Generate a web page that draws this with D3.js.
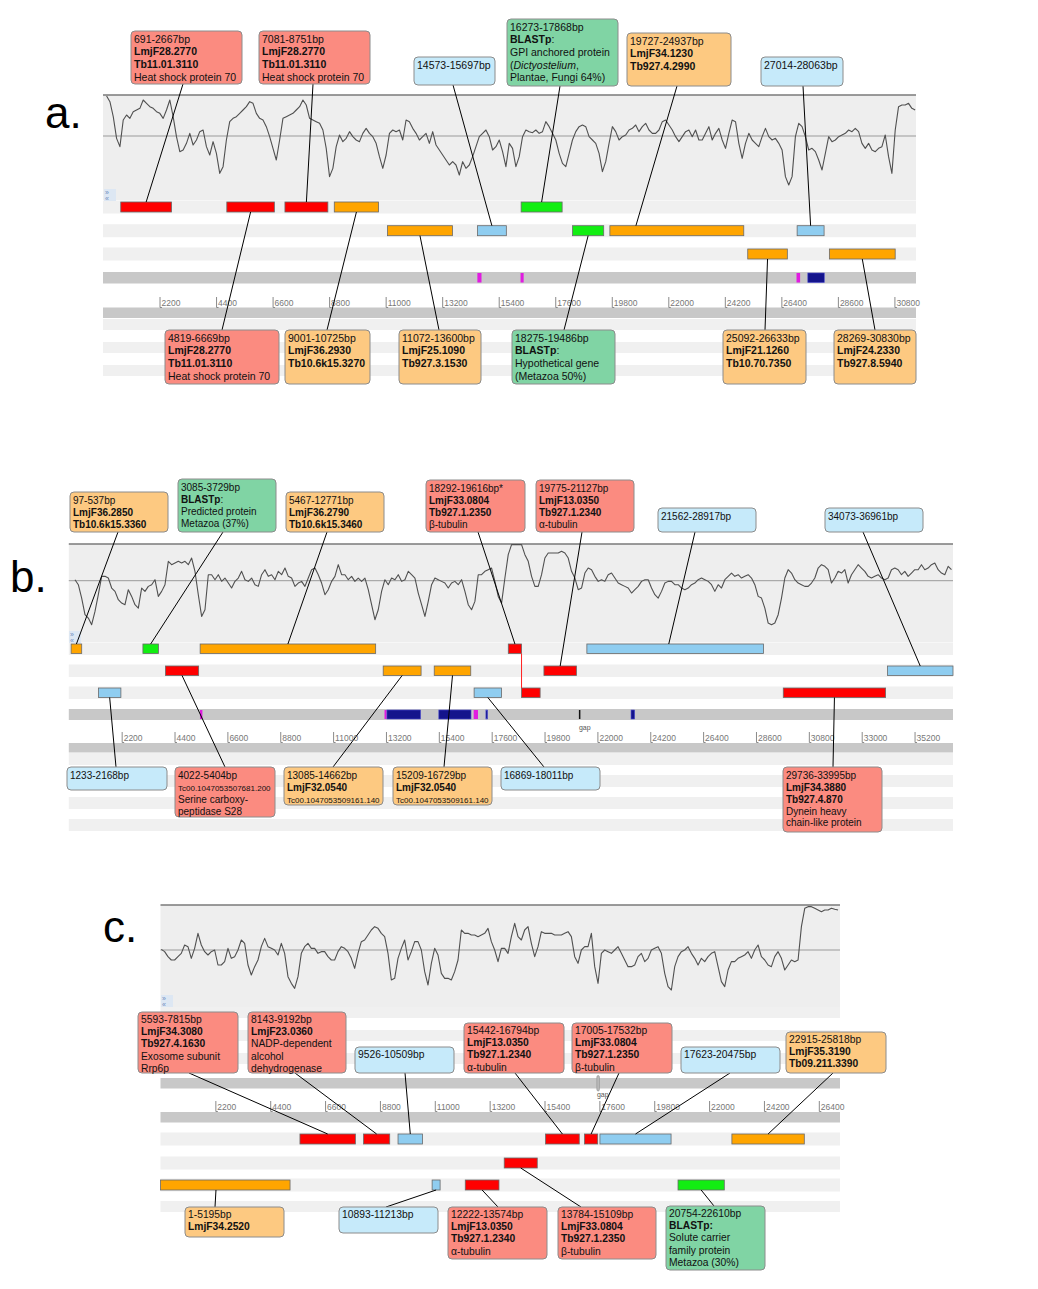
<!DOCTYPE html>
<html>
<head>
<meta charset="utf-8">
<script src="https://cdnjs.cloudflare.com/ajax/libs/d3/7.8.5/d3.min.js"></script>
<style>
  body { margin: 0; background: #fff; }
  svg { display: block; font-family: "Liberation Sans", Arial, sans-serif; }
</style>
</head>
<body>
<svg id="fig" width="1038" height="1289"></svg>
<script>
// ---- data: sliding-window trace values (arbitrary units, 0 = mean line) ----
var traceA = [120,103,58,-7,-32,48,63,53,73,78, 83,108,98,88,83,73,68,53,78,108,
  58,-2,-47,-42,-22,8,-27,-12,13,18, -32,-57,-17,-52,-112,-92,-12,43,53,58,
  68,78,88,103,98,68,53,48,28,-2, -37,-72,-12,53,58,63,68,78,88,108,
  93,53,48,43,38,18,-37,-122,-97,-32, 3,-17,-7,13,-2,-12,-17,8,23,8,
  -2,-22,-62,-97,-57,8,18,13,18,-12, 48,43,23,8,-12,-2,8,-22,13,-27,
  -42,-57,-72,-87,-77,-87,-117,-77,-97,-87, -62,-32,-2,8,18,-2,-42,-32,-12,-47, -92,
  -22,-37,-92,-62,-2,18,13,10,18,8, 13,43,28,8,-12,-52,-82,-92,-52,-12,
  13,28,33,28,-2,-12,-22,-52,-107,-77, -22,28,13,-12,-2,3,18,23,33,13,
  28,38,18,8,8,18,43,48,33,18, -2,-17,-2,13,18,-2,18,-12,-12,8,
  28,-12,8,23,-12,-37,8,48,43,-22, -67,-22,8,-12,-22,-32,-2,23,-2,-12,
  -7,-22,-42,-122,-147,-122,-2,38,28,-2, -42,-37,-47,-72,-102,-52,-2,-17,-12,-2,
  3,8,18,13,23,13,-22,-37,-22,-42, -47,-37,-32,3,-62,-112,18,88,93,93, 98,83,78];

var traceB = [3,-12,-52,-102,-112,-132,-92,-42,13,13, 8,-22,-32,-57,-67,-72,-27,-47,-72,-82,
  -22,-32,-17,-12,3,-47,-32,-12,58,48, 53,58,53,58,48,68,28,-42,-107,-87,
  18,18,3,18,-2,8,-7,-22,-2,8, 28,3,-2,8,-12,-17,18,33,13,18,
  3,28,18,38,13,8,-17,-7,-2,-17, 8,33,38,18,-7,-42,-27,-2,13,48,
  18,18,3,13,-2,8,-2,8,-27,-72, -117,-87,-32,3,-12,8,3,18,-2,3,
  28,18,8,-37,-72,-107,-62,-12,8,3, -2,-7,-22,-7,-2,-12,3,-32,-72,-87,
  -62,18,18,28,33,38,-2,-47,-67,8, 78,108,108,
  108,108,78,58,13,-17,-17,18,68,83, 83,83,83,88,83,68,28,8,-27,-22,
  23,38,33,13,-2,3,-2,18,23,8, -7,-12,-17,-22,-37,-27,-17,-2,3,3,
  -22,-42,-52,-32,-7,-2,-2,-12,-12,-22, -27,-22,-12,-7,3,8,3,-2,-12,-32,
  -12,-22,3,13,23,13,18,8,13,18, 8,-12,-47,-52,-82,-127,-132,-127,-102,-52,
  8,33,23,3,-7,-12,-17,-17,-7,8, 38,48,43,33,-7,8,28,23,33,-7,
  18,33,48,38,28,13,8,13,18,8, 3,8,33,38,33,18,28,13,23,33,
  33,48,33,38,48,53,33,23,18,43, 33];

var traceC = [2,-5,-20,-30,-30,-20,-10,15,10,-25, 5,50,15,-5,-15,-5,0,-45,-45,-35,
  5,-25,-20,0,30,20,-45,-75,-50,-30, 10,35,10,5,0,-15,20,-10,-80,-100,
  -115,-80,-10,10,20,5,5,-10,-5,-5, -20,-30,-30,-5,10,5,-5,-25,-55,-10,
  25,30,45,60,70,65,50,40,-10,-90, -85,-25,5,30,-30,-5,25,25,0,-65,
  -105,-40,5,-15,-70,-85,-85,-90,-65,-30, 60,50,50,45,45,40,45,50,65,25, 0,-35,5,
  5,-10,40,80,40,30,60,70,20,-20, 10,55,50,50,50,45,45,45,50,55,
  40,-20,-40,0,10,10,50,-50,-100,-10, 0,-5,-10,0,10,-10,-30,-50,-50,-45,
  -20,-10,-35,-25,0,5,10,-10,-70,-110, -120,-50,-20,-5,0,10,-10,-25,-45,-25,
  -35,-20,-10,-5,-50,-95,-110,-60,-35,-35, -25,-20,-15,-5,-25,0,15,-20,-30,-45,
  -50,-20,-5,-25,-60,-45,-30,-35,-30,70, 125,130,130,125,120,115,120,120,125,122, 120];

// ---- data: predicted genes (bp), frame row and annotation class ----
var genesA = [
  {start: 691, end: 2667, row: 0, type: 'named'},
  {start: 4819, end: 6669, row: 0, type: 'named'},
  {start: 7081, end: 8751, row: 0, type: 'named'},
  {start: 9001, end: 10725, row: 0, type: 'ortholog'},
  {start: 16273, end: 17868, row: 0, type: 'blast'},
  {start: 11072, end: 13600, row: 1, type: 'ortholog'},
  {start: 14573, end: 15697, row: 1, type: 'none'},
  {start: 18275, end: 19486, row: 1, type: 'blast'},
  {start: 19727, end: 24937, row: 1, type: 'ortholog'},
  {start: 27014, end: 28063, row: 1, type: 'none'},
  {start: 25092, end: 26633, row: 2, type: 'ortholog'},
  {start: 28269, end: 30830, row: 2, type: 'ortholog'}
];
var genesB = [
  {start: 97, end: 537, row: 0, type: 'ortholog'},
  {start: 3085, end: 3729, row: 0, type: 'blast'},
  {start: 5467, end: 12771, row: 0, type: 'ortholog'},
  {start: 18292, end: 18843, row: 0, type: 'named', id: '18292-19616'},
  {start: 21562, end: 28917, row: 0, type: 'none'},
  {start: 4022, end: 5404, row: 1, type: 'named'},
  {start: 13085, end: 14662, row: 1, type: 'ortholog'},
  {start: 15209, end: 16729, row: 1, type: 'ortholog'},
  {start: 19775, end: 21127, row: 1, type: 'named'},
  {start: 34073, end: 36961, row: 1, type: 'none'},
  {start: 1233, end: 2168, row: 2, type: 'none'},
  {start: 16869, end: 18011, row: 2, type: 'none'},
  {start: 18843, end: 19616, row: 2, type: 'named', id: '18292-19616'},
  {start: 29736, end: 33995, row: 2, type: 'named'}
];
var genesC = [
  {start: 5593, end: 7815, row: 0, type: 'named'},
  {start: 8143, end: 9192, row: 0, type: 'named'},
  {start: 9526, end: 10509, row: 0, type: 'none'},
  {start: 15442, end: 16794, row: 0, type: 'named'},
  {start: 17005, end: 17532, row: 0, type: 'named'},
  {start: 17623, end: 20475, row: 0, type: 'none'},
  {start: 22915, end: 25818, row: 0, type: 'ortholog'},
  {start: 13784, end: 15109, row: 1, type: 'named'},
  {start: 1, end: 5195, row: 2, type: 'ortholog'},
  {start: 10893, end: 11213, row: 2, type: 'none'},
  {start: 12222, end: 13574, row: 2, type: 'named'},
  {start: 20754, end: 22610, row: 2, type: 'blast'}
];

// small features on the grey strand line (bp)
var marksA = [
  {start: 14570, end: 14730, kind: 'magenta'}, {start: 16250, end: 16370, kind: 'magenta'},
  {start: 26990, end: 27130, kind: 'magenta'}, {start: 27430, end: 28070, kind: 'navy'}
];
var marksB = [
  {start: 5460, end: 5560, kind: 'magenta'}, {start: 13140, end: 13230, kind: 'magenta'},
  {start: 13240, end: 14640, kind: 'navy'}, {start: 15400, end: 16740, kind: 'navy'},
  {start: 16850, end: 17030, kind: 'magenta'}, {start: 17360, end: 17430, kind: 'navy'},
  {start: 21230, end: 21270, kind: 'black'}, {start: 23400, end: 23550, kind: 'navy'}
];
var marksC = [{start: 17500, end: 17600, kind: 'gapbox'}];
var gapsB = [21230];
var gapsC = [17500];

// axis tick labels (bp)
var ticksA = [2200, 4400, 6600, 8800, 11000, 13200, 15400, 17600, 19800, 22000, 24200, 26400, 28600, 30800];
var ticksB = [2200, 4400, 6600, 8800, 11000, 13200, 15400, 17600, 19800, 22000, 24200, 26400, 28600, 30800, 33000, 35200];
var ticksC = [2200, 4400, 6600, 8800, 11000, 13200, 15400, 17600, 19800, 22000, 24200, 26400];

// callout texts: *bold*, _italic_, ~small~
var calloutsA = [
  {gene: '691-2667', lines: ['691-2667bp', '*LmjF28.2770*', '*Tb11.01.3110*', 'Heat shock protein 70']},
  {gene: '7081-8751', lines: ['7081-8751bp', '*LmjF28.2770*', '*Tb11.01.3110*', 'Heat shock protein 70']},
  {gene: '14573-15697', lines: ['14573-15697bp']},
  {gene: '16273-17868', lines: ['16273-17868bp', '*BLASTp*:', 'GPI anchored protein', '(_Dictyostelium_,', 'Plantae, Fungi 64%)']},
  {gene: '19727-24937', lines: ['19727-24937bp', '*LmjF34.1230*', '*Tb927.4.2990*']},
  {gene: '27014-28063', lines: ['27014-28063bp']},
  {gene: '4819-6669', lines: ['4819-6669bp', '*LmjF28.2770*', '*Tb11.01.3110*', 'Heat shock protein 70']},
  {gene: '9001-10725', lines: ['9001-10725bp', '*LmjF36.2930*', '*Tb10.6k15.3270*']},
  {gene: '11072-13600', lines: ['11072-13600bp', '*LmjF25.1090*', '*Tb927.3.1530*']},
  {gene: '18275-19486', lines: ['18275-19486bp', '*BLASTp*:', 'Hypothetical gene', '(Metazoa 50%)']},
  {gene: '25092-26633', lines: ['25092-26633bp', '*LmjF21.1260*', '*Tb10.70.7350*']},
  {gene: '28269-30830', lines: ['28269-30830bp', '*LmjF24.2330*', '*Tb927.8.5940*']}
];
var calloutsB = [
  {gene: '97-537', lines: ['97-537bp', '*LmjF36.2850*', '*Tb10.6k15.3360*']},
  {gene: '3085-3729', lines: ['3085-3729bp', '*BLASTp*:', 'Predicted protein', 'Metazoa (37%)']},
  {gene: '5467-12771', lines: ['5467-12771bp', '*LmjF36.2790*', '*Tb10.6k15.3460*']},
  {gene: '18292-19616', lines: ['18292-19616bp*', '*LmjF33.0804*', '*Tb927.1.2350*', 'β-tubulin']},
  {gene: '19775-21127', lines: ['19775-21127bp', '*LmjF13.0350*', '*Tb927.1.2340*', 'α-tubulin']},
  {gene: '21562-28917', lines: ['21562-28917bp']},
  {gene: '34073-36961', lines: ['34073-36961bp']},
  {gene: '1233-2168', lines: ['1233-2168bp']},
  {gene: '4022-5404', lines: ['4022-5404bp', '~Tc00.1047053507681.200~', 'Serine carboxy-', 'peptidase S28']},
  {gene: '13085-14662', lines: ['13085-14662bp', '*LmjF32.0540*', '~Tc00.1047053509161.140~']},
  {gene: '15209-16729', lines: ['15209-16729bp', '*LmjF32.0540*', '~Tc00.1047053509161.140~']},
  {gene: '16869-18011', lines: ['16869-18011bp']},
  {gene: '29736-33995', lines: ['29736-33995bp', '*LmjF34.3880*', '*Tb927.4.870*', 'Dynein heavy', 'chain-like protein']}
];
var calloutsC = [
  {gene: '5593-7815', lines: ['5593-7815bp', '*LmjF34.3080*', '*Tb927.4.1630*', 'Exosome subunit', 'Rrp6p']},
  {gene: '8143-9192', lines: ['8143-9192bp', '*LmjF23.0360*', 'NADP-dependent', 'alcohol', 'dehydrogenase']},
  {gene: '9526-10509', lines: ['9526-10509bp']},
  {gene: '15442-16794', lines: ['15442-16794bp', '*LmjF13.0350*', '*Tb927.1.2340*', 'α-tubulin']},
  {gene: '17005-17532', lines: ['17005-17532bp', '*LmjF33.0804*', '*Tb927.1.2350*', 'β-tubulin']},
  {gene: '17623-20475', lines: ['17623-20475bp']},
  {gene: '22915-25818', lines: ['22915-25818bp', '*LmjF35.3190*', '*Tb09.211.3390*']},
  {gene: '1-5195', lines: ['1-5195bp', '*LmjF34.2520*']},
  {gene: '10893-11213', lines: ['10893-11213bp']},
  {gene: '12222-13574', lines: ['12222-13574bp', '*LmjF13.0350*', '*Tb927.1.2340*', 'α-tubulin']},
  {gene: '13784-15109', lines: ['13784-15109bp', '*LmjF33.0804*', '*Tb927.1.2350*', 'β-tubulin']},
  {gene: '20754-22610', lines: ['20754-22610bp', '*BLASTp:*', 'Solute carrier', 'family protein', 'Metazoa (30%)']}
];

// ---- layout: where callout boxes sit (px), line start x, optional tip (bp) ----
var boxesA = {
  '691-2667': {x: 131, y: 31, w: 111, h: 53, lx: 183},
  '7081-8751': {x: 259, y: 31, w: 111, h: 53, lx: 313},
  '14573-15697': {x: 414, y: 57, w: 81, h: 28, lx: 453},
  '16273-17868': {x: 507, y: 19, w: 111, h: 67, lx: 560},
  '19727-24937': {x: 627, y: 33, w: 104, h: 53, lx: 677, tip: 20740},
  '27014-28063': {x: 761, y: 57, w: 82, h: 29, lx: 803},
  '4819-6669': {x: 165, y: 330, w: 114, h: 54, lx: 222},
  '9001-10725': {x: 285, y: 330, w: 85, h: 54, lx: 327},
  '11072-13600': {x: 399, y: 330, w: 82, h: 54, lx: 439},
  '18275-19486': {x: 512, y: 330, w: 103, h: 54, lx: 564},
  '25092-26633': {x: 723, y: 330, w: 83, h: 54, lx: 765},
  '28269-30830': {x: 834, y: 330, w: 82, h: 54, lx: 875}
};
var boxesB = {
  '97-537': {x: 70, y: 492, w: 98, h: 40, lx: 118},
  '3085-3729': {x: 178, y: 479, w: 98, h: 53, lx: 223},
  '5467-12771': {x: 286, y: 492, w: 98, h: 40, lx: 327},
  '18292-19616': {x: 426, y: 480, w: 99, h: 52, lx: 478},
  '19775-21127': {x: 536, y: 480, w: 98, h: 52, lx: 582},
  '21562-28917': {x: 658, y: 508, w: 98, h: 24, lx: 695, tip: 24970},
  '34073-36961': {x: 825, y: 508, w: 98, h: 24, lx: 863},
  '1233-2168': {x: 67, y: 767, w: 100, h: 23, lx: 116},
  '4022-5404': {x: 175, y: 767, w: 100, h: 50, lx: 225},
  '13085-14662': {x: 284, y: 767, w: 99, h: 38, lx: 333},
  '15209-16729': {x: 393, y: 767, w: 99, h: 38, lx: 444},
  '16869-18011': {x: 501, y: 767, w: 99, h: 23, lx: 544},
  '29736-33995': {x: 783, y: 767, w: 99, h: 65, lx: 833}
};
var boxesC = {
  '5593-7815': {x: 138, y: 1012, w: 100, h: 61, lx: 189},
  '8143-9192': {x: 248, y: 1012, w: 98, h: 61, lx: 295},
  '9526-10509': {x: 355, y: 1047, w: 99, h: 26, lx: 405},
  '15442-16794': {x: 464, y: 1023, w: 100, h: 50, lx: 515},
  '17005-17532': {x: 572, y: 1023, w: 100, h: 50, lx: 619},
  '17623-20475': {x: 681, y: 1047, w: 99, h: 26, lx: 730},
  '22915-25818': {x: 786, y: 1032, w: 100, h: 41, lx: 833},
  '1-5195': {x: 185, y: 1207, w: 99, h: 30, lx: 215, tip: 2225},
  '10893-11213': {x: 339, y: 1207, w: 99, h: 26, lx: 386},
  '12222-13574': {x: 448, y: 1207, w: 99, h: 52, lx: 498},
  '13784-15109': {x: 558, y: 1207, w: 98, h: 52, lx: 581},
  '20754-22610': {x: 666, y: 1206, w: 99, h: 64, lx: 714}
};

var barColor = {named: '#ff0000', ortholog: '#ffa500', blast: '#12ee12', none: '#8fcdf0'};
var boxColor = {named: '#fb8b80', ortholog: '#fdc981', blast: '#80d4a4', none: '#c6eafa'};
var markColor = {magenta: '#e01ce0', navy: '#14148c', black: '#111', gapbox: '#bdbdbd'};

var panels = [
  {label: 'a.', labelX: 45, labelY: 128, domain: [0, 31640], range: [103, 916],
   trace: traceA, traceStart: 140, traceStep: 129.5, traceMax: 123,
   traceTop: 95, traceMid: 136, traceBottom: 200, arrowsAt: [104, 189],
   rows: [202, 225.7, 249], barH: 10,
   stripes: [[319, 11], [342, 11], [365, 11]], bands: [[272, 11.5], [307.5, 10.5]],
   markY: 272, markH: 11.5, gapY: 0, tickBase: 306,
   genes: genesA, marks: marksA, gaps: [], ticks: ticksA,
   callouts: calloutsA, boxes: boxesA, font: 10.5, lineH: 12.7, first: 11.6},
  {label: 'b.', labelX: 10, labelY: 592, domain: [0, 36800], range: [68.8, 953],
   trace: traceB, traceStart: 258, traceStep: 138.7, traceMax: 110,
   traceTop: 544, traceMid: 580.7, traceBottom: 642, arrowsAt: [69, 631],
   rows: [644, 666, 688], barH: 9.5,
   stripes: [[753, 12], [775, 12], [797, 12], [819, 12]], bands: [[709, 11], [743, 9.5]],
   markY: 709, markH: 11, gapY: 730, tickBase: 741,
   genes: genesB, marks: marksB, gaps: gapsB, ticks: ticksB,
   callouts: calloutsB, boxes: boxesB, font: 10, lineH: 11.9, first: 11.8},
  {label: 'c.', labelX: 103, labelY: 942, domain: [0, 27250], range: [160.5, 840],
   trace: traceC, traceStart: 32, traceStep: 133.7, traceMax: 135,
   traceTop: 905, traceMid: 950, traceBottom: 1007, arrowsAt: [161, 995],
   rows: [1134, 1158, 1180], barH: 10,
   stripes: [[1007, 11], [1030, 11], [1053, 11], [1201, 11]], bands: [[1078, 10.5], [1112, 10.5]],
   markY: 1078, markH: 10.5, gapY: 1097, tickBase: 1110,
   genes: genesC, marks: marksC, gaps: gapsC, ticks: ticksC,
   callouts: calloutsC, boxes: boxesC, font: 10.3, lineH: 12.3, first: 10.8}
];

var svg = d3.select('#fig');

// split "*bold* _italic_ ~small~" into styled pieces
function pieces(str) {
  return str.split(/(\*[^*]+\*|_[^_]+_|~[^~]+~)/).filter(function(s) { return s.length; })
    .map(function(s) {
      if (s[0] === '*') return {t: s.slice(1, -1), bold: true};
      if (s[0] === '_') return {t: s.slice(1, -1), italic: true};
      if (s[0] === '~') return {t: s.slice(1, -1), small: true};
      return {t: s};
    });
}

function geneId(g) { return g.id || (g.start + '-' + g.end); }

panels.forEach(function(p) {
  var g = svg.append('g');
  var x = d3.scaleLinear().domain(p.domain).range(p.range);
  var y = d3.scaleLinear().domain([0, p.traceMax]).range([p.traceMid, p.traceTop]);
  var x0 = p.range[0], w = p.range[1] - p.range[0];

  // track backgrounds
  g.append('rect').attr('x', x0).attr('y', p.traceTop).attr('width', w)
    .attr('height', p.traceBottom - p.traceTop).attr('fill', '#eeeeee');
  var stripes = p.rows.map(function(r) { return [r - 1.5, p.barH + 3]; }).concat(p.stripes);
  g.selectAll('rect.stripe').data(stripes).enter().append('rect')
    .attr('x', x0).attr('width', w)
    .attr('y', function(d) { return d[0]; }).attr('height', function(d) { return d[1]; })
    .attr('fill', '#f0f0f0');
  g.selectAll('rect.band').data(p.bands).enter().append('rect')
    .attr('x', x0).attr('width', w)
    .attr('y', function(d) { return d[0]; }).attr('height', function(d) { return d[1]; })
    .attr('fill', '#c8c8c8');

  // mean line and top border of the plot
  g.append('line').attr('x1', x0).attr('x2', x0 + w)
    .attr('y1', p.traceMid).attr('y2', p.traceMid).attr('stroke', '#9a9a9a').attr('stroke-width', 1);
  g.append('line').attr('x1', x0).attr('x2', x0 + w)
    .attr('y1', p.traceTop).attr('y2', p.traceTop).attr('stroke', '#7a7a7a').attr('stroke-width', 1.5);

  // the trace
  var line = d3.line()
    .x(function(d, i) { return x(p.traceStart + i * p.traceStep); })
    .y(function(d) { return y(d); });
  g.append('path').datum(p.trace).attr('d', line)
    .attr('fill', 'none').attr('stroke', '#505050').attr('stroke-width', 1.1)
    .attr('stroke-linejoin', 'round');

  // scroll arrows
  var ar = g.append('g').attr('transform', 'translate(' + p.arrowsAt[0] + ',' + p.arrowsAt[1] + ')');
  ar.append('rect').attr('width', 12).attr('height', 12).attr('fill', '#dde7f3');
  ar.append('text').attr('x', 1).attr('y', 5.5).attr('font-size', 7).attr('fill', '#6f8dbd').text('»');
  ar.append('text').attr('x', 1).attr('y', 11.5).attr('font-size', 7).attr('fill', '#6f8dbd').text('«');

  // axis ticks
  var tk = g.selectAll('g.tick').data(p.ticks).enter().append('g')
    .attr('transform', function(d) { return 'translate(' + x(d) + ',' + p.tickBase + ')'; });
  tk.append('path').attr('d', 'M0.5,-9V1.5H2.5').attr('fill', 'none').attr('stroke', '#8a8a8a');
  tk.append('text').attr('x', 2).attr('y', 0).attr('font-size', 8.5).attr('fill', '#777')
    .text(function(d) { return d; });

  // strand-line marks
  g.selectAll('rect.mark').data(p.marks).enter().append('rect')
    .attr('x', function(d) { return x(d.start); })
    .attr('width', function(d) { return Math.max(1.5, x(d.end) - x(d.start)); })
    .attr('y', function(d) { return d.kind === 'gapbox' ? p.markY - 2.5 : p.markY + 1; })
    .attr('height', function(d) { return d.kind === 'gapbox' ? p.markH + 5 : p.markH - 2; })
    .attr('rx', function(d) { return d.kind === 'gapbox' ? 1.5 : 0; })
    .attr('fill', function(d) { return markColor[d.kind]; })
    .attr('stroke', function(d) { return d.kind === 'navy' ? '#4b4bd0' : (d.kind === 'gapbox' ? '#8a8a8a' : 'none'); })
    .attr('stroke-width', 0.6);
  g.selectAll('text.gap').data(p.gaps).enter().append('text')
    .attr('x', function(d) { return x(d); }).attr('y', p.gapY)
    .attr('font-size', 7).attr('fill', '#555').text('gap');

  // gene bars
  g.selectAll('rect.gene').data(p.genes).enter().append('rect')
    .attr('x', function(d) { return x(d.start); })
    .attr('width', function(d) { return Math.min(x(d.end), x0 + w) - x(d.start); })
    .attr('y', function(d) { return p.rows[d.row]; })
    .attr('height', p.barH)
    .attr('fill', function(d) { return barColor[d.type]; })
    .attr('stroke', '#6a6a6a').attr('stroke-width', 0.8);

  // connector for genes split over two frames
  var byId = d3.group(p.genes, geneId);
  byId.forEach(function(parts) {
    if (parts.length < 2) return;
    var a = parts[0], b = parts[1];
    g.append('line').attr('x1', x(b.start)).attr('x2', x(b.start))
      .attr('y1', p.rows[a.row] + p.barH).attr('y2', p.rows[b.row])
      .attr('stroke', '#ff2020').attr('stroke-width', 1);
  });

  // callouts: leader line then box
  p.callouts.forEach(function(c) {
    var b = p.boxes[c.gene];
    var gene = byId.get(c.gene)[0];
    var gx0 = x(gene.start), gx1 = Math.min(x(gene.end), x0 + w);
    var tipX = b.tip != null ? x(b.tip) : (gx0 + gx1) / 2;
    var barTop = p.rows[gene.row];
    var above = b.y < barTop;
    g.append('line')
      .attr('x1', b.lx != null ? b.lx : b.x + b.w / 2)
      .attr('y1', above ? b.y + b.h : b.y)
      .attr('x2', tipX)
      .attr('y2', above ? barTop : barTop + p.barH)
      .attr('stroke', '#000').attr('stroke-width', 1);
  });
  p.callouts.forEach(function(c) {
    var b = p.boxes[c.gene];
    var gene = byId.get(c.gene)[0];
    var bg = g.append('g').attr('transform', 'translate(' + b.x + ',' + b.y + ')');
    bg.append('rect').attr('width', b.w).attr('height', b.h).attr('rx', 4)
      .attr('fill', boxColor[gene.type]).attr('stroke', '#8c8c8c').attr('stroke-width', 1);
    c.lines.forEach(function(ln, i) {
      var t = bg.append('text').attr('x', 3).attr('y', p.first + i * p.lineH)
        .attr('font-size', p.font).attr('fill', '#111');
      pieces(ln).forEach(function(pc) {
        var s = t.append('tspan').text(pc.t);
        if (pc.bold) s.attr('font-weight', 'bold');
        if (pc.italic) s.attr('font-style', 'italic');
        if (pc.small) s.attr('font-size', p.font * 0.8);
      });
    });
  });

  // panel letter
  g.append('text').attr('x', p.labelX).attr('y', p.labelY)
    .attr('font-size', 44).attr('fill', '#000').text(p.label);
});
</script>
</body>
</html>
